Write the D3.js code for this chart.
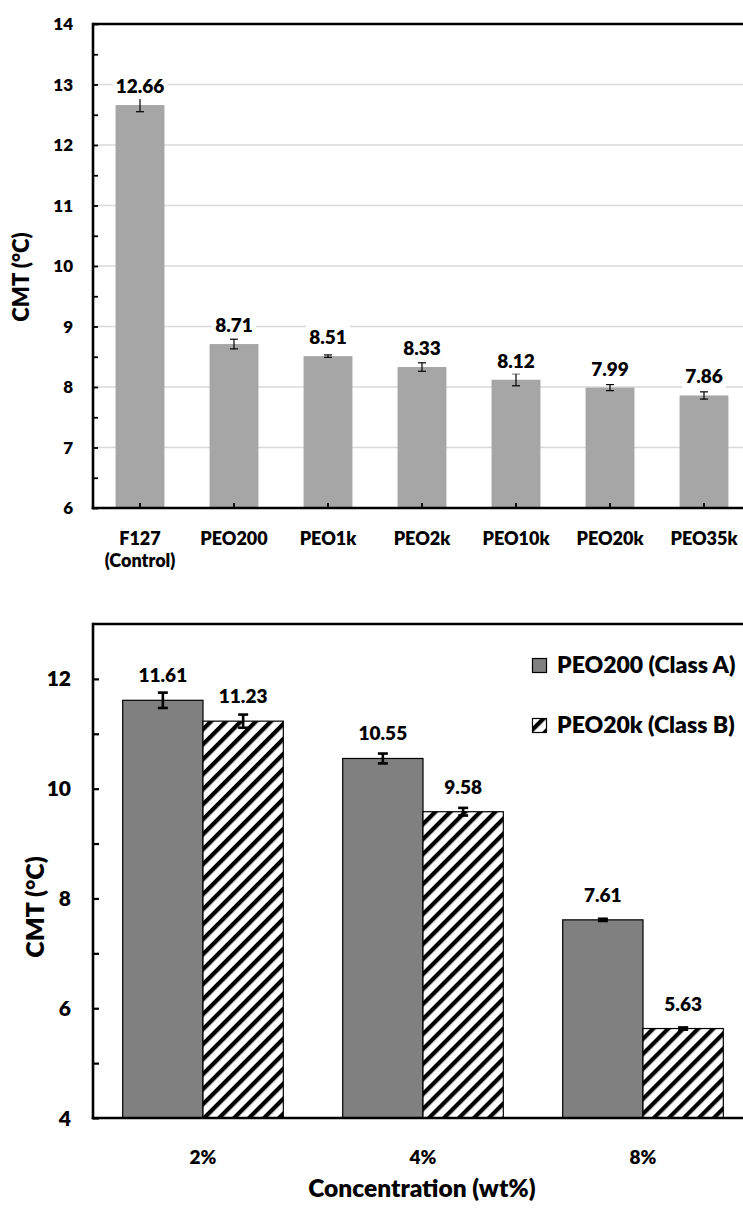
<!DOCTYPE html>
<html>
<head>
<meta charset="utf-8">
<script src="https://cdn.jsdelivr.net/npm/d3@7"></script>
<style>
  body { margin: 0; background: #fff; }
  svg text { font-family: Lato, "Open Sans", sans-serif; font-weight: 800; fill: #000; }
</style>
</head>
<body>
<svg id="chart" width="743" height="1215"></svg>
<script>
// --- top panel: CMT per additive ---
const topCats   = ['F127|(Control)', 'PEO200', 'PEO1k', 'PEO2k', 'PEO10k', 'PEO20k', 'PEO35k'];
const topValues = [12.66, 8.71, 8.51, 8.33, 8.12, 7.99, 7.86];
const topErrors = [0.11, 0.08, 0.02, 0.07, 0.10, 0.05, 0.06];
const topTicks  = [6, 7, 8, 9, 10, 11, 12, 13, 14];

// --- bottom panel: CMT vs concentration ---
const botCats    = ['2%', '4%', '8%'];
const botSeries  = ['PEO200 (Class A)', 'PEO20k (Class B)'];
const botValues  = [[11.61, 10.55, 7.61], [11.23, 9.58, 5.63]];
const botErrors  = [[0.14, 0.09, 0.02], [0.12, 0.07, 0.02]];
const botTicks   = [4, 6, 8, 10, 12];

const svg = d3.select('#chart');

// hatch for class B
const defs = svg.append('defs');
defs.append('pattern')
  .attr('id', 'hatch')
  .attr('patternUnits', 'userSpaceOnUse')
  .attr('width', 10.6).attr('height', 10.6)
  .attr('patternTransform', 'rotate(45)')
  .call(p => {
    p.append('rect').attr('width', 10.6).attr('height', 10.6).attr('fill', '#fff');
    p.append('rect').attr('width', 4.2).attr('height', 10.6).attr('fill', '#000');
  });

function labelWithBg(g, x, y, txt, size) {
  const t = g.append('text')
    .attr('x', x).attr('y', y)
    .attr('text-anchor', 'middle')
    .style('font-size', size + 'px')
    .text(txt);
  const b = t.node().getBBox();
  g.insert('rect', () => t.node())
    .attr('x', b.x - 3).attr('y', b.y - 1)
    .attr('width', b.width + 6).attr('height', b.height + 3)
    .attr('fill', '#fff');
}

// ================= TOP =================
(function drawTop() {
  const left = 93, right = 751, top = 24, bottom = 508;
  const x = d3.scaleBand().domain(topCats).range([left, right]).paddingInner(0.48).paddingOuter(0.24);
  const y = d3.scaleLinear().domain([6, 14]).range([bottom, top]);
  const g = svg.append('g');

  // grid
  g.selectAll('line.grid').data(topTicks.filter(d => d > 6 && d < 14)).enter()
    .append('line')
    .attr('x1', left).attr('x2', right)
    .attr('y1', d => y(d)).attr('y2', d => y(d))
    .attr('stroke', '#d9d9d9').attr('stroke-width', 1.3);

  // bars
  g.selectAll('rect.bar').data(topValues).enter()
    .append('rect')
    .attr('x', (d, i) => x(topCats[i]))
    .attr('width', x.bandwidth())
    .attr('y', d => y(d))
    .attr('height', d => y(6) - y(d))
    .attr('fill', '#a6a6a6');

  // error bars
  const eb = g.append('g').attr('stroke', '#000').attr('stroke-width', 1.2);
  topValues.forEach((v, i) => {
    const cx = x(topCats[i]) + x.bandwidth() / 2;
    const e = topErrors[i];
    eb.append('line').attr('x1', cx).attr('x2', cx).attr('y1', y(v + e)).attr('y2', y(v - e));
    [v + e, v - e].forEach(w => eb.append('line')
      .attr('x1', cx - 4).attr('x2', cx + 4).attr('y1', y(w)).attr('y2', y(w)));
  });

  // value labels
  const lab = g.append('g');
  topValues.forEach((v, i) => {
    labelWithBg(lab, x(topCats[i]) + x.bandwidth() / 2, y(v) - 12, v.toFixed(2), 19);
  });

  // axes
  const ax = g.append('g').attr('stroke', '#000').attr('stroke-width', 2.6);
  ax.append('line').attr('x1', left).attr('x2', right).attr('y1', top).attr('y2', top);
  ax.append('line').attr('x1', left).attr('x2', left).attr('y1', top - 1.3).attr('y2', bottom + 1.3);
  ax.append('line').attr('x1', left - 1.3).attr('x2', right).attr('y1', bottom).attr('y2', bottom);

  const yAxis = d3.axisRight(y).tickValues(d3.range(6, 14.01, 0.5)).tickSize(5).tickFormat('');
  g.append('g').attr('transform', `translate(${left},0)`).call(yAxis)
    .call(s => s.select('.domain').remove())
    .call(s => s.selectAll('line').attr('stroke', '#000').attr('stroke-width', 1.8));

  g.selectAll('text.ytick').data(topTicks).enter()
    .append('text')
    .attr('x', 73).attr('y', d => y(d))
    .attr('dy', '0.36em')
    .attr('text-anchor', 'end')
    .style('font-size', '17px')
    .text(d => d);

  // x ticks + labels
  const xAxis = d3.axisTop(x).tickSize(5).tickFormat('');
  g.append('g').attr('transform', `translate(0,${bottom})`).call(xAxis)
    .call(s => s.select('.domain').remove())
    .call(s => s.selectAll('line').attr('stroke', '#000').attr('stroke-width', 1.8));

  topCats.forEach(c => {
    const t = g.append('text')
      .attr('x', x(c) + x.bandwidth() / 2).attr('y', 545)
      .attr('text-anchor', 'middle')
      .style('font-size', '18px');
    c.split('|').forEach((part, j) => {
      t.append('tspan').attr('x', x(c) + x.bandwidth() / 2).attr('dy', j ? 22 : 0).text(part);
    });
  });

  g.append('text')
    .attr('transform', 'translate(29,277) rotate(-90)')
    .attr('text-anchor', 'middle')
    .style('font-size', '22px')
    .text('CMT (°C)');
})();

// ================= BOTTOM =================
(function drawBottom() {
  const left = 93, right = 753, top = 624, bottom = 1118;
  const x0 = d3.scaleBand().domain(botCats).range([left, right]).paddingInner(0.27).paddingOuter(0.135);
  const x1 = d3.scaleBand().domain(botSeries).range([0, x0.bandwidth()]);
  const y = d3.scaleLinear().domain([4, 13]).range([bottom, top]);
  const fills = ['#808080', 'url(#hatch)'];
  const g = svg.append('g');

  botSeries.forEach((s, si) => {
    g.append('g').selectAll('rect').data(botValues[si]).enter()
      .append('rect')
      .attr('x', (d, i) => x0(botCats[i]) + x1(s))
      .attr('width', x1.bandwidth())
      .attr('y', d => y(d))
      .attr('height', d => y(4) - y(d))
      .attr('fill', fills[si])
      .attr('stroke', '#000').attr('stroke-width', 1.2);
  });

  const eb = g.append('g').attr('stroke', '#000').attr('stroke-width', 2.6);
  botSeries.forEach((s, si) => {
    botValues[si].forEach((v, i) => {
      const cx = x0(botCats[i]) + x1(s) + x1.bandwidth() / 2;
      const e = botErrors[si][i];
      eb.append('line').attr('x1', cx).attr('x2', cx).attr('y1', y(v + e)).attr('y2', y(v - e));
      [v + e, v - e].forEach(w => eb.append('line')
        .attr('x1', cx - 5).attr('x2', cx + 5).attr('y1', y(w)).attr('y2', y(w)));
      g.append('text')
        .attr('x', cx).attr('y', y(v) - 18)
        .attr('text-anchor', 'middle')
        .style('font-size', '19px')
        .text(v.toFixed(2));
    });
  });

  // axes
  const ax = g.append('g').attr('stroke', '#000').attr('stroke-width', 2.6);
  ax.append('line').attr('x1', left).attr('x2', right).attr('y1', top).attr('y2', top);
  ax.append('line').attr('x1', left).attr('x2', left).attr('y1', top - 1.3).attr('y2', bottom + 1.3);
  ax.append('line').attr('x1', left - 1.3).attr('x2', right).attr('y1', bottom).attr('y2', bottom);

  const yAxis = d3.axisRight(y).tickValues(d3.range(4, 13, 1)).tickSize(6).tickFormat('');
  g.append('g').attr('transform', `translate(${left},0)`).call(yAxis)
    .call(s => s.select('.domain').remove())
    .call(s => s.selectAll('line').attr('stroke', '#000').attr('stroke-width', 2.2));

  g.selectAll('text.ytick').data(botTicks).enter()
    .append('text')
    .attr('x', 71).attr('y', d => y(d))
    .attr('dy', '0.36em')
    .attr('text-anchor', 'end')
    .style('font-size', '21px')
    .text(d => d);

  botCats.forEach(c => {
    g.append('text')
      .attr('x', x0(c) + x0.bandwidth() / 2).attr('y', 1164)
      .attr('text-anchor', 'middle')
      .style('font-size', '19px')
      .text(c);
  });

  g.append('text')
    .attr('x', 422).attr('y', 1197)
    .attr('text-anchor', 'middle')
    .style('font-size', '24.5px')
    .text('Concentration (wt%)');

  g.append('text')
    .attr('transform', 'translate(44,907) rotate(-90)')
    .attr('text-anchor', 'middle')
    .style('font-size', '25px')
    .text('CMT (°C)');

  // legend
  const legY = [658, 718];
  botSeries.forEach((s, si) => {
    g.append('rect')
      .attr('x', 532.5).attr('y', legY[si] + 0.5)
      .attr('width', 14).attr('height', 14)
      .attr('fill', fills[si])
      .attr('stroke', '#000').attr('stroke-width', 1.2);
    g.append('text')
      .attr('x', 557).attr('y', legY[si] + 15)
      .style('font-size', '23px')
      .text(s);
  });
})();
</script>
</body>
</html>
